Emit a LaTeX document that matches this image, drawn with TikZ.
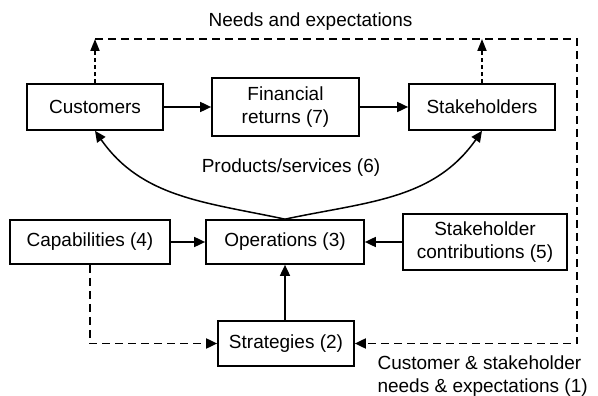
\documentclass[tikz,border=0pt]{standalone}
\usepackage{fontspec}
\setmainfont{Liberation Sans}
\usetikzlibrary{arrows.meta}
\begin{document}
\begin{tikzpicture}[x=1pt,y=-1pt,
  every node/.style={font=\fontsize{19}{23.5}\selectfont},
  box/.style={draw,line width=1.7pt,inner sep=0pt,align=center},
  solidarrow/.style={line width=1.7pt,-{Triangle[length=11pt,width=10pt]}},
  dasharrow/.style={line width=1.8pt,dash pattern=on 8pt off 5pt,-{Triangle[length=11pt,width=10pt]}},
  shortdash/.style={line width=1.8pt,dash pattern=on 4pt off 3pt,-{Triangle[length=12pt,width=9pt]}},
  curvearrow/.style={line width=1.5pt,-{Triangle[length=11pt,width=10pt]}}]
\useasboundingbox (0,0) rectangle (598,396);

% boxes
\node[box,minimum width=136pt,minimum height=46pt] (cust) at (95,107) {Customers};
\node[box,minimum width=147pt,minimum height=58pt] (fin) at (285.5,107) {Financial\\returns (7)};
\node[box,minimum width=146pt,minimum height=46pt] (stake) at (482,107) {Stakeholders};
\node[box,minimum width=160pt,minimum height=44pt] (cap) at (90,242) {Capabilities (4)};
\node[box,minimum width=158pt,minimum height=44pt] (ops) at (285,242) {Operations (3)};
\node[box,minimum width=164pt,minimum height=56pt] (contrib) at (485,242) {Stakeholder\\contributions (5)};
\node[box,minimum width=136pt,minimum height=45pt] (strat) at (286,343.5) {Strategies (2)};

% labels
\node[anchor=west] (needs) at (205,22) {Needs and expectations};
\node (prod) at (291,168) {Products/services (6)};
\node[anchor=north west,align=left] (cse) at (374,352) {Customer \& stakeholder\\needs \& expectations (1)};

% feedback loop corners
\coordinate (tl) at (95,39);
\coordinate (tr) at (577,39);
\coordinate (br) at (577,343.5);

% solid flows
\draw[solidarrow] (cust.east) -- (fin.west);
\draw[solidarrow] (fin.east) -- (stake.west);
\draw[solidarrow] (cap.east) -- (ops.west);
\draw[solidarrow] (contrib.west) -- (ops.east);
\draw[solidarrow] (strat.north -| ops.south) -- (ops.south);

% products/services
\draw[curvearrow] (ops.north) to[out=168,in=-55] (cust.south);
\draw[curvearrow] (ops.north) to[out=12,in=-125] (stake.south);

% needs and expectations loop
\draw[shortdash] (cust.north) -- (cust.north |- tl);
\draw[shortdash] (stake.north) -- (stake.north |- tl);
\draw[dasharrow] (tl) -- (tr) -- (br) -- (strat.east);
\draw[dasharrow] (cap.south) |- (strat.west);
\end{tikzpicture}
\end{document}
